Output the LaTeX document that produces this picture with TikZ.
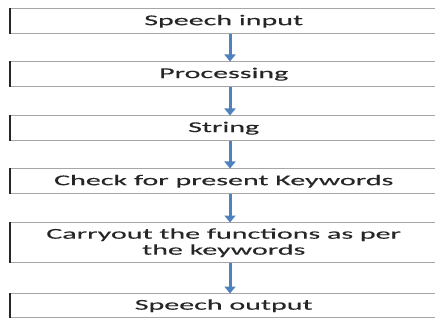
\documentclass[tikz,border=0pt]{standalone}
\usepackage{fontspec}
\setmainfont{Carlito}[FakeStretch=2.0,FakeBold=0.2]
\usetikzlibrary{arrows.meta}
\definecolor{flowblue}{HTML}{4F81BD}
\definecolor{edgegray}{HTML}{A6A6A6}
\begin{document}
\begin{tikzpicture}[x=1pt,y=1pt,
  stepbox/.style={draw=edgegray, line width=1.4pt, minimum width=426pt,
    anchor=north west, inner sep=0pt, align=center, text=black!85,
    font=\fontsize{15}{16}\selectfont},
  flow/.style={draw=flowblue, line width=3pt,
    -{Triangle[width=11pt,length=7pt]}, shorten >=-0.5pt}]
\clip (0,0) rectangle (435,-320);
\fill[white] (0,0) rectangle (435,-320);
% process boxes, top to bottom
\node[stepbox, minimum height=25pt] (s1) at (10,-8) {Speech input};
\node[stepbox, minimum height=25pt] (s2) at (10,-61) {Processing};
\node[stepbox, minimum height=25pt] (s3) at (10,-115) {String};
\node[stepbox, minimum height=25pt] (s4) at (10,-168) {Check for present Keywords};
\node[stepbox, minimum height=40pt] (s5) at (10,-222) {Carryout the functions as per\\the keywords};
\node[stepbox, minimum height=24pt] (s6) at (10,-293) {Speech output};
% darker left edges
\foreach \n in {s1,s2,s3,s4,s5,s6}
  \draw[black!85, line width=1.4pt] (\n.north west) -- (\n.south west);
% connectors
\foreach \a/\b in {s1/s2,s2/s3,s3/s4,s4/s5,s5/s6}
  \draw[flow] (\a.south -| 230,0) -- (\b.north -| 230,0);
\end{tikzpicture}
\end{document}
